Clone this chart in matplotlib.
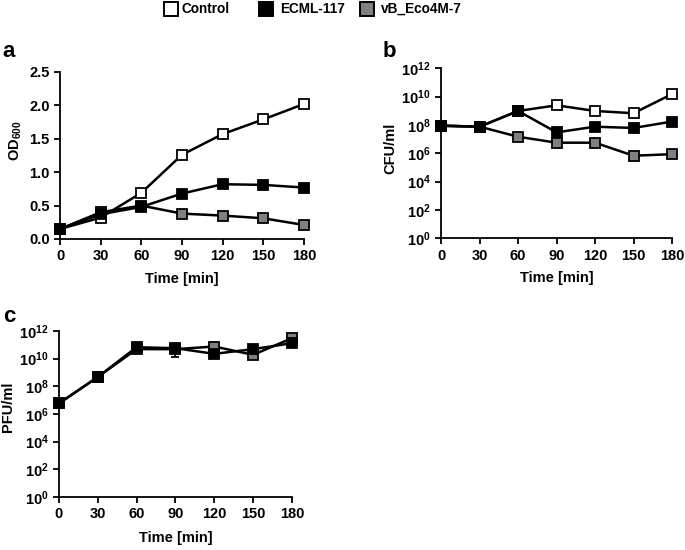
import numpy as np
import matplotlib
matplotlib.use("Agg")
import matplotlib.pyplot as plt
from matplotlib.ticker import FixedLocator, NullLocator
from matplotlib.lines import Line2D

plt.rcParams['font.family'] = ['Liberation Sans', 'DejaVu Sans']
plt.rcParams['font.weight'] = 'bold'
plt.rcParams['mathtext.fontset'] = 'custom'
plt.rcParams['mathtext.rm'] = 'Liberation Sans:bold'
plt.rcParams['mathtext.bf'] = 'Liberation Sans:bold'
plt.rcParams['mathtext.it'] = 'Liberation Sans:bold'

time = [0, 30, 60, 90, 120, 150, 180]
series_names = ["Control", "ECML-117", "vB_Eco4M-7"]
face_colors = ["white", "black", "#808080"]

# panel a: OD600
od_control = [0.15, 0.32, 0.69, 1.26, 1.57, 1.79, 2.02]
od_ecml = [0.15, 0.37, 0.48, 0.68, 0.82, 0.81, 0.77]
od_vb = [0.15, 0.40, 0.50, 0.38, 0.35, 0.31, 0.21]

# panel b: CFU/ml (log10)
cfu_control_log = [7.94, 7.87, 8.98, 9.38, 8.98, 8.82, 10.17]
cfu_ecml_log = [7.94, 7.87, 8.98, 7.47, 7.87, 7.78, 8.23]
cfu_vb_log = [7.94, 7.87, 7.16, 6.74, 6.74, 5.82, 5.93]

# panel c: PFU/ml (log10)
pfu_ecml_log = [6.76, 8.67, 10.82, 10.75, 10.34, 10.68, 11.11]
pfu_vb_log = [6.76, 8.67, 10.68, 10.68, 10.87, 10.27, 11.47]
pfu_ecml_err_low_log = [0, 0, 0, 10.14, 0, 0, 0]

W, H = 685, 550
fig = plt.figure(figsize=(W / 100, H / 100), dpi=100)

tick_fs = 10.5
label_fs = 10.5

def style_axes(ax, xlab_y, ylab_x, ylab_y):
    ax.spines['top'].set_visible(False)
    ax.spines['right'].set_visible(False)
    for s in ['left', 'bottom']:
        ax.spines[s].set_linewidth(1.3)
    ax.tick_params(direction='out', length=4, width=1.3, labelsize=tick_fs)
    ax.set_xlim(0, 180)
    ax.xaxis.set_major_locator(FixedLocator(time))
    ax.set_xlabel("Time [min]", fontsize=label_fs, fontweight='bold', va='center')
    ax.xaxis.set_label_coords(0.5, xlab_y)
    ax.yaxis.set_label_coords(ylab_x, ylab_y)
    for lab in ax.get_xticklabels() + ax.get_yticklabels():
        lab.set_fontweight('bold')

def plot_series(ax, y, fc, zorder, label=None):
    ax.plot(time, y, '-s', color='black', mfc=fc, mec='black', ms=7.5, mew=1.3,
            lw=1.8, clip_on=False, zorder=zorder, label=label)

# Panel a
axa = fig.add_axes([0.0876, 0.5655, 0.356, 0.3036])
plot_series(axa, od_control, face_colors[0], 3, series_names[0])
plot_series(axa, od_ecml, face_colors[1], 5, series_names[1])
plot_series(axa, od_vb, face_colors[2], 4, series_names[2])
axa.set_ylim(0, 2.5)
axa.yaxis.set_major_locator(FixedLocator([0, 0.5, 1.0, 1.5, 2.0, 2.5]))
axa.set_yticklabels(["0.0", "0.5", "1.0", "1.5", "2.0", "2.5"])
axa.set_ylabel("OD$_{600}$", fontsize=label_fs, fontweight='bold', va='center')
style_axes(axa, -0.24, -0.18, 0.59)
fig.text(0.004, 0.896, "a", fontsize=16, fontweight='bold')

def log_axis(ax):
    ax.set_yscale('log')
    ax.set_ylim(1, 1e12)
    ax.yaxis.set_major_locator(FixedLocator([10.0**k for k in range(0, 13, 2)]))
    ax.yaxis.set_minor_locator(NullLocator())
    ax.set_yticklabels(["$10^{%d}$" % k for k in range(0, 13, 2)])

# Panel b
axb = fig.add_axes([0.644, 0.567, 0.337, 0.309])
plot_series(axb, [10**v for v in cfu_control_log], face_colors[0], 3)
plot_series(axb, [10**v for v in cfu_vb_log], face_colors[2], 4)
plot_series(axb, [10**v for v in cfu_ecml_log], face_colors[1], 5)
log_axis(axb)
axb.set_ylabel("CFU/ml", fontsize=label_fs, fontweight='bold', va='center')
style_axes(axb, -0.235, -0.22, 0.53)
fig.text(0.559, 0.896, "b", fontsize=16, fontweight='bold')

# Panel c
axc = fig.add_axes([0.0861, 0.0964, 0.340, 0.302])
yb = np.array([10**v for v in pfu_ecml_log])
low = np.array([10**v if v > 0 else yv for v, yv in zip(pfu_ecml_err_low_log, yb)])
axc.errorbar(time, yb, yerr=[yb - low, np.zeros_like(yb)], fmt='none', ecolor='black',
             elinewidth=1.3, capsize=3, capthick=1.3, zorder=3)
plot_series(axc, [10**v for v in pfu_vb_log], face_colors[2], 4)
plot_series(axc, list(yb), face_colors[1], 5)
log_axis(axc)
axc.set_ylabel("PFU/ml", fontsize=label_fs, fontweight='bold', va='center')
style_axes(axc, -0.247, -0.219, 0.54)
fig.text(0.004, 0.4145, "c", fontsize=16, fontweight='bold')

# Legend (manual placement along the top)
marker_px = [170.5, 265.5, 367.0]
text_px = [181.5, 280.5, 380.5]
ly = 1 - 9.0 / H
for fc, name, mx, tx in zip(face_colors, series_names, marker_px, text_px):
    fig.add_artist(Line2D([mx / W], [ly], transform=fig.transFigure, marker='s', ls='none',
                          mfc=fc, mec='black', ms=10.5, mew=1.4))
    fig.text(tx / W, ly, name, fontsize=9.8, fontweight='bold', va='center', ha='left')

fig.savefig("out.png", dpi=100)
